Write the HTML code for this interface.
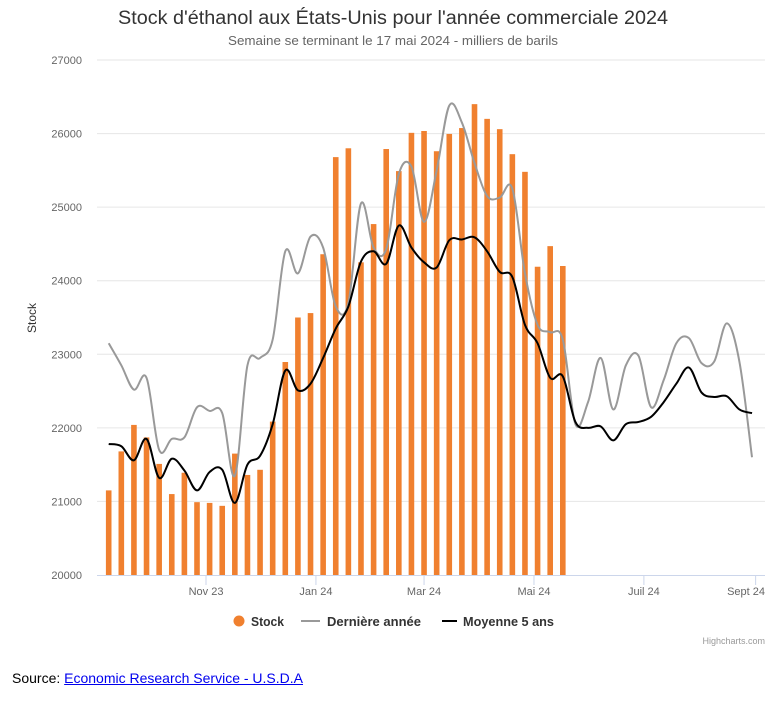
<!DOCTYPE html>
<html><head><meta charset="utf-8"><style>
body{margin:0;background:#fff;width:781px;height:703px;overflow:hidden;font-family:"Liberation Sans",sans-serif}
#src{position:absolute;left:12px;top:670px;font-size:14px;color:#000}
#src a{color:#00e;text-decoration:underline}
</style></head><body>
<svg id="chart" width="781" height="660" style="position:absolute;left:0;top:0" font-family="Liberation Sans, sans-serif">
<text x="393" y="24" text-anchor="middle" font-size="19" fill="#333" textLength="550" lengthAdjust="spacingAndGlyphs">Stock d'éthanol aux États-Unis pour l'année commerciale 2024</text>
<text x="393" y="45" text-anchor="middle" font-size="12.5" fill="#666" textLength="330" lengthAdjust="spacingAndGlyphs">Semaine se terminant le 17 mai 2024 - milliers de barils</text>
<text transform="translate(36,318) rotate(-90)" text-anchor="middle" font-size="12" fill="#333">Stock</text>
<g id="grid"></g><g id="bars"></g><g id="lines"></g><g id="xaxis"></g>
<g font-size="13" font-weight="bold" fill="#333">
<g><circle cx="239" cy="621" r="5.5" fill="#f0802f"/><text x="251" y="626" textLength="33" lengthAdjust="spacingAndGlyphs">Stock</text></g>
<g><line x1="301" y1="621" x2="320" y2="621" stroke="#999" stroke-width="2"/><text x="327" y="626" textLength="94" lengthAdjust="spacingAndGlyphs">Dernière année</text></g>
<g><line x1="442" y1="621" x2="457" y2="621" stroke="#000" stroke-width="2"/><text x="463" y="626" textLength="91" lengthAdjust="spacingAndGlyphs">Moyenne 5 ans</text></g>
</g>
<text x="765" y="644" text-anchor="end" font-size="9" fill="#999">Highcharts.com</text>
</svg>
<div id="src">Source: <a>Economic Research Service - U.S.D.A</a></div>
<script>
const yTicks=[20000,21000,22000,23000,24000,25000,26000,27000];
const xTickLabels=["Nov 23","Jan 24","Mar 24","Mai 24","Juil 24","Sept 24"];
const xTickDates=["2023-11-01","2024-01-01","2024-03-01","2024-05-01","2024-07-01","2024-09-01"];
const startDate="2023-09-08";
const stock=[21150,21680,22040,21870,21510,21100,21390,20990,20980,20940,21650,21360,21430,22085,22895,23500,23560,24360,25680,25800,24250,24770,25790,25490,26010,26035,25760,25995,26075,26400,26200,26060,25720,25480,24190,24470,24200];
const lastYear=[23150,22850,22520,22680,21700,21850,21870,22280,22230,22200,21350,22850,22950,23200,24400,24100,24600,24450,23650,23700,25050,24450,24430,25450,25550,24800,25500,26380,26150,25600,25150,25130,25250,24100,23400,23300,23200,22050,22350,22950,22250,22850,22980,22280,22650,23150,23220,22880,22900,23420,22900,21600];
const avg5=[21780,21750,21560,21850,21320,21580,21420,21150,21400,21430,20980,21500,21620,22050,22780,22510,22600,22950,23350,23650,24260,24400,24230,24750,24450,24250,24180,24550,24560,24590,24400,24120,24050,23400,23150,22680,22700,22080,22000,22020,21830,22050,22080,22150,22350,22600,22820,22480,22420,22430,22250,22200];
const NS="http://www.w3.org/2000/svg";
const L=97,R=765,T=60,B=575,ymin=20000,ymax=27000;
const x0=Date.parse(startDate),pxDay=1.802,xStart=108.7;
function xDate(s){return xStart+(Date.parse(s)-x0)/864e5*pxDay;}
function xWeek(i){return xStart+i*7*pxDay;}
function y(v){return B-(v-ymin)/(ymax-ymin)*(B-T);}
function mk(tag,attrs,parent){const e=document.createElementNS(NS,tag);for(const k in attrs)e.setAttribute(k,attrs[k]);parent.appendChild(e);return e;}
const grid=document.getElementById('grid');
yTicks.forEach(v=>{
 if(v>ymin){const g=mk('line',{x1:L,x2:R,y1:y(v),y2:y(v),stroke:'#e6e6e6','stroke-width':1},grid);
 
 }
 const t=mk('text',{x:82,y:y(v)+4,'text-anchor':'end','font-size':11,fill:'#666'},grid);
 t.textContent=v;
 
 
});
const bars=document.getElementById('bars');
stock.forEach((v,i)=>{
 const r=mk('rect',{x:xWeek(i)-2.8,y:y(v),width:5.6,height:B-y(v),fill:'#f0802f'},bars);
 
 
});
function path(vals){
 const p=vals.map((v,i)=>[xWeek(i),y(v)]);
 let d='M'+p[0][0]+','+p[0][1];
 for(let i=0;i<p.length-1;i++){
  const a=p[Math.max(0,i-1)],b=p[i],c=p[i+1],e=p[Math.min(p.length-1,i+2)];
  const t=0.17;
  d+=' C'+(b[0]+(c[0]-a[0])*t)+','+(b[1]+(c[1]-a[1])*t)+' '+(c[0]-(e[0]-b[0])*t)+','+(c[1]-(e[1]-b[1])*t)+' '+c[0]+','+c[1];
 }
 return d;
}
const lines=document.getElementById('lines');
const l1=mk('path',{d:path(lastYear),fill:'none',stroke:'#999','stroke-width':2},lines);


const l2=mk('path',{d:path(avg5),fill:'none',stroke:'#000','stroke-width':2},lines);


const xa=document.getElementById('xaxis');
const ax=mk('line',{x1:L,x2:R,y1:B+0.5,y2:B+0.5,stroke:'#ccd6eb','stroke-width':1},xa);


xTickDates.forEach((d,i)=>{
 const xx=xDate(d);
 const tk=mk('line',{x1:xx,x2:xx,y1:B,y2:B+10,stroke:'#ccd6eb','stroke-width':1},xa);
 
 
 const last=i===xTickDates.length-1;
 const t=mk('text',{x:last?R:xx,y:B+20,'text-anchor':last?'end':'middle','font-size':11,fill:'#666'},xa);
 t.textContent=xTickLabels[i];
 
 
});
</script>
</body></html>
